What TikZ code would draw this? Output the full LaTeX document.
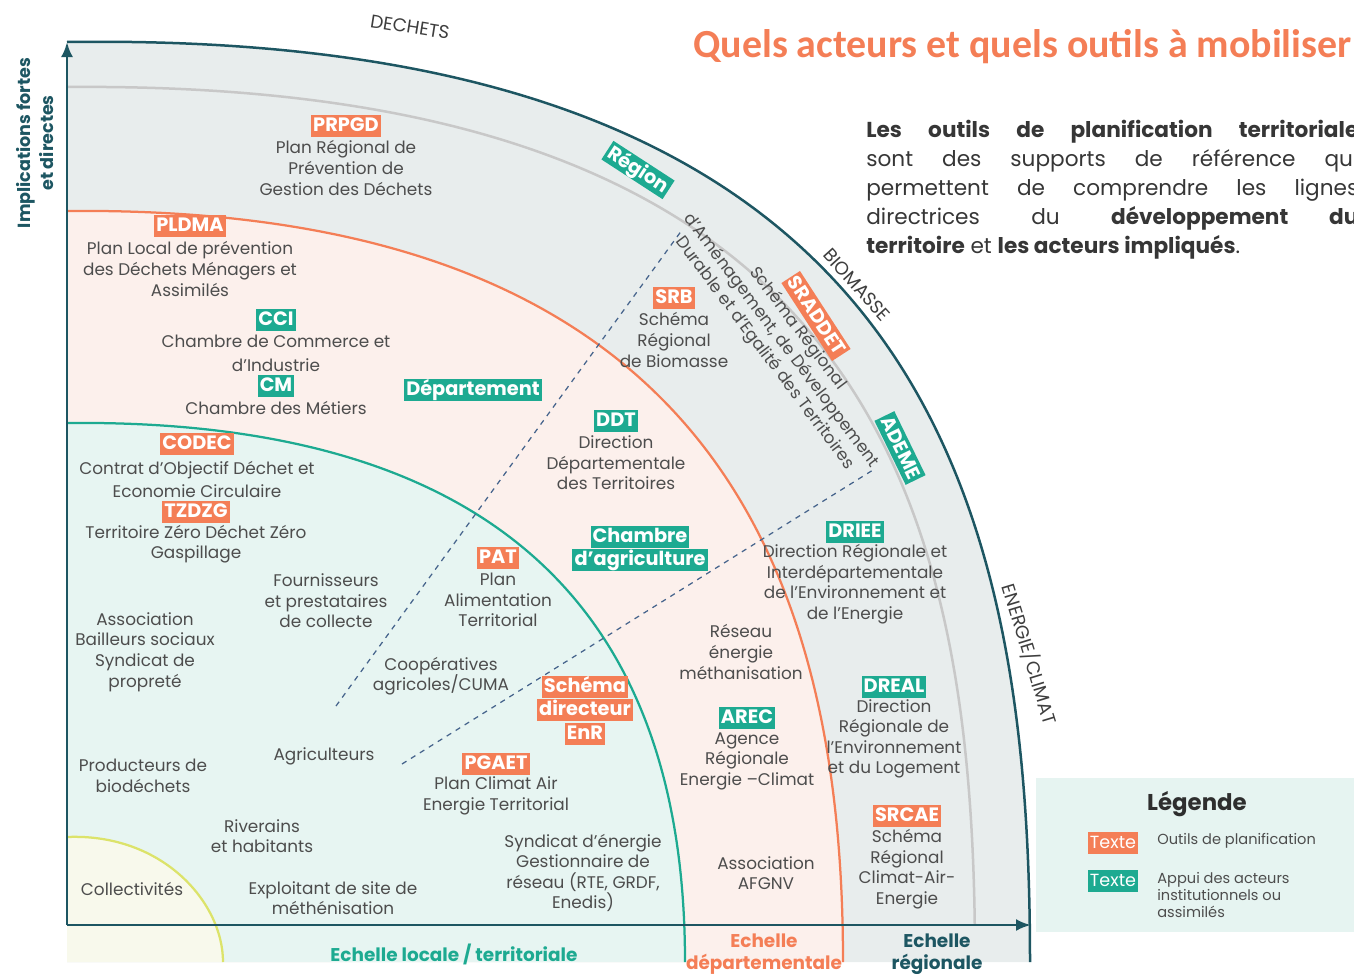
\documentclass[tikz,border=0pt]{standalone}
\usepackage{fontspec}
\setmainfont{Poppins}
\newfontfamily\titrefont{Carlito}
\usetikzlibrary{arrows.meta}

\definecolor{orangeoutil}{HTML}{F47E56}
\definecolor{vertappui}{HTML}{1DAA91}
\definecolor{bleuaxe}{HTML}{1D5662}
\definecolor{gristexte}{HTML}{4D4D4D}
\definecolor{grisligne}{HTML}{C8C8C8}
\definecolor{bleupointille}{HTML}{46648C}
\definecolor{fondregion}{HTML}{E8EDED}
\definecolor{fonddep}{HTML}{FCF0EC}
\definecolor{fondlocal}{HTML}{E7F5F2}
\definecolor{fondcollec}{HTML}{F8F9EC}
\definecolor{lignecollec}{HTML}{DCE36A}
\definecolor{fondlegende}{HTML}{E6F4F1}

\tikzset{
  outil/.style={fill=orangeoutil, text=white, font=\fontsize{11}{12}\selectfont\bfseries,
    inner xsep=1.2pt, inner ysep=1.2pt, text height=8.4pt, text depth=1.8pt},
  appui/.style={outil, fill=vertappui},
  desc/.style={text=gristexte, align=center, font=\fontsize{9.6}{11.7}\selectfont, inner sep=0pt},
  axe/.style={draw=bleuaxe, line width=0.55mm, -{Latex[length=3mm,width=2.4mm]}},
  pointille/.style={draw=bleupointille, dashed, line width=0.25mm},
  theme/.style={text=gristexte!80!black, font=\fontsize{10.5}{12}\selectfont},
  echelle/.style={align=center, font=\fontsize{10.5}{12.5}\selectfont\bfseries}
}

\begin{document}
\begin{tikzpicture}[x=0.2mm, y=-0.2mm]
  \useasboundingbox (0,0) rectangle (1354,974);

  % bandes (regional, departemental, local, collectivites)
  \fill[fondregion] (67,962) -- (67,42) .. controls (911,30) and (1030,478) .. (1030,962) -- cycle;
  \fill[fonddep] (67,962) -- (67,211) .. controls (687,205) and (843,542) .. (843,962) -- cycle;
  \fill[fondlocal] (67,962) -- (67,423) .. controls (547,418) and (685,662) .. (685,962) -- cycle;
  \fill[fondcollec] (67,962) -- (67,837) .. controls (162,833) and (223,902) .. (223,962) -- cycle;

  % limites
  \begin{scope}
    \clip (0,0) rectangle (1354,925);
    \draw[grisligne, line width=0.5mm] (67,87) .. controls (867,80) and (975,492) .. (975,962);
  \end{scope}
  \draw[bleuaxe, line width=0.5mm] (67,42) .. controls (911,30) and (1030,478) .. (1030,962);
  \draw[orangeoutil, line width=0.45mm] (67,211) .. controls (687,205) and (843,542) .. (843,962);
  \draw[vertappui, line width=0.45mm] (67,423) .. controls (547,418) and (685,662) .. (685,962);
  \draw[lignecollec, line width=0.45mm] (67,837) .. controls (162,833) and (223,902) .. (223,962);

  % axes
  \coordinate (O) at (67,925);
  \coordinate (haut) at (67,42);
  \coordinate (droite) at (1031,925);
  \draw[axe] (O) -- (haut);
  \draw[axe] (O) -- (droite);

  % pointilles
  \coordinate (p1a) at (336,706);
  \coordinate (p1b) at (682,230);
  \coordinate (p2a) at (402,764);
  \coordinate (p2b) at (873,470);
  \draw[pointille] (p1a) -- (p1b);
  \draw[pointille] (p2a) -- (p2b);

  % titres exterieurs
  \node[text=bleuaxe, align=center, rotate=90, font=\fontsize{10}{13}\selectfont\bfseries] (implic) at (35,143) {Implications fortes\\et directes};
  \node[theme, rotate=-9] (dechets) at (410,27) {DECHETS};
  \node[theme, rotate=-48] (biomasse) at (857,285) {BIOMASSE};
  \node[theme, rotate=-73] (energie) at (1030,654) {ENERGIE/CLIMAT};
  \node[anchor=base west, text=orangeoutil, inner sep=0pt, font=\titrefont\fontsize{22.7}{25}\selectfont\bfseries] (titre) at (693,57) {Quels acteurs et quels outils à mobiliser};

  % paragraphe
  \node[anchor=base west, inner sep=0pt, text=gristexte!70!black, font=\fontsize{12.3}{16}\selectfont] (par1) at (866,137) {\makebox[98.4mm][s]{\bfseries Les outils de planification territoriale}};
  \node[anchor=base west, inner sep=0pt, text=gristexte!70!black, font=\fontsize{12.3}{16}\selectfont] (par2) at (866,166) {\makebox[98.4mm][s]{sont des supports de référence qui}};
  \node[anchor=base west, inner sep=0pt, text=gristexte!70!black, font=\fontsize{12.3}{16}\selectfont] (par3) at (866,195) {\makebox[98.4mm][s]{permettent de comprendre les lignes}};
  \node[anchor=base west, inner sep=0pt, text=gristexte!70!black, font=\fontsize{12.3}{16}\selectfont] (par4) at (866,224) {\makebox[98.4mm][s]{directrices du \textbf{développement du}}};
  \node[anchor=base west, inner sep=0pt, text=gristexte!70!black, font=\fontsize{12.3}{16}\selectfont] (par5) at (866,253) {\textbf{territoire} et \textbf{les acteurs impliqués}.};

  % echelle regionale
  \node[outil] (prpgd) at (346,126) {PRPGD};
  \node[desc] (prpgdTxt) at (346,168) {Plan Régional de\\Prévention de\\Gestion des Déchets};
  \node[appui, rotate=-33] (region) at (638,170) {Région};
  \node[outil] (srb) at (674,298) {SRB};
  \node[desc] (srbTxt) at (674,340) {Schéma\\Régional\\de Biomasse};
  \node[outil, rotate=-57] (sraddet) at (816,316) {SRADDET};
  \node[desc, rotate=-53] (sraddetTxt) at (781,341) {Schéma Régional\\d'Aménagement, de Développement\\Durable et d'Egalité des Territoires};
  \node[appui, rotate=-64] (ademe) at (900,448) {ADEME};
  \node[appui] (driee) at (855,532) {DRIEE};
  \node[desc] (drieeTxt) at (855,584) {Direction Régionale et\\Interdépartementale\\de l'Environnement et\\de l'Energie};
  \node[appui] (dreal) at (894,687) {DREAL};
  \node[desc] (drealTxt) at (894,739) {Direction\\Régionale de\\l'Environnement\\et du Logement};
  \node[outil] (srcae) at (907,816) {SRCAE};
  \node[desc] (srcaeTxt) at (907,869) {Schéma\\Régional\\Climat-Air-\\Energie};

  % echelle departementale
  \node[outil] (pldma) at (190,226) {PLDMA};
  \node[desc] (pldmaTxt) at (190,269) {Plan Local de prévention\\des Déchets Ménagers et\\Assimilés};
  \node[appui] (cci) at (276,320) {CCI};
  \node[desc, font=\fontsize{9.6}{13.7}\selectfont] (cciTxt) at (276,353) {Chambre de Commerce et\\d’Industrie};
  \node[appui] (cm) at (276,386) {CM};
  \node[desc] (cmTxt) at (276,408) {Chambre des Métiers};
  \node[appui] (dept) at (473,390) {Département};
  \node[appui] (ddt) at (616,421) {DDT};
  \node[desc] (ddtTxt) at (616,463) {Direction\\Départementale\\des Territoires};
  \node[appui] (chambreA) at (640,537) {Chambre};
  \node[appui] (chambreB) at (640,560) {d’agriculture};
  \node[desc] (reseau) at (741,652) {Réseau\\énergie\\méthanisation};
  \node[appui] (arec) at (747,718) {AREC};
  \node[desc] (arecTxt) at (747,761) {Agence\\Régionale\\Energie –Climat};
  \node[desc] (afgnv) at (766,873) {Association\\AFGNV};

  % echelle locale
  \node[outil] (codec) at (197,444) {CODEC};
  \node[desc, font=\fontsize{9.6}{13.1}\selectfont] (codecTxt) at (197,479) {Contrat d’Objectif Déchet et\\Economie Circulaire};
  \node[outil] (tzdzg) at (196,512) {TZDZG};
  \node[desc] (tzdzgTxt) at (196,544) {Territoire Zéro Déchet Zéro\\Gaspillage};
  \node[desc] (fournis) at (326,601) {Fournisseurs\\et prestataires\\de collecte};
  \node[desc] (assoc) at (145,652) {Association\\Bailleurs sociaux\\Syndicat de\\propreté};
  \node[outil] (pat) at (498,558) {PAT};
  \node[desc] (patTxt) at (498,600) {Plan\\Alimentation\\Territorial};
  \node[desc] (coop) at (441,676) {Coopératives\\agricoles/CUMA};
  \node[outil] (schemaA) at (585,687) {Schéma};
  \node[outil] (schemaB) at (585,710) {directeur};
  \node[outil] (schemaC) at (585,734) {EnR};
  \node[desc] (agri) at (324,756) {Agriculteurs};
  \node[desc] (produc) at (143,776) {Producteurs de\\biodéchets};
  \node[outil] (pgaet) at (496,764) {PGAET};
  \node[desc] (pgaetTxt) at (496,796) {Plan Climat Air\\Energie Territorial};
  \node[desc] (riverains) at (262,836) {Riverains\\et habitants};
  \node[desc] (syndicat) at (583,873) {Syndicat d’énergie\\Gestionnaire de\\réseau (RTE, GRDF,\\Enedis)};
  \node[desc] (collec) at (132,889) {Collectivités};
  \node[desc] (exploit) at (333,898) {Exploitant de site de\\méthénisation};

  % echelles
  \node[echelle, text=vertappui] (echLocale) at (454,954) {Echelle locale / territoriale};
  \node[echelle, text=orangeoutil] (echDep) at (764,954) {Echelle\\départementale};
  \node[echelle, text=bleuaxe] (echReg) at (937,954) {Echelle\\régionale};

  % legende
  \fill[fondlegende] (1036,778) rectangle (1354,932);
  \node[text=gristexte!60!black, font=\fontsize{13}{15}\selectfont\bfseries] (legTitre) at (1197,804) {Légende};
  \node[outil, font=\fontsize{10}{12}\selectfont] (legOutil) at (1113,843) {Texte};
  \node[anchor=west, text=gristexte, font=\fontsize{8.3}{9.7}\selectfont, inner sep=0pt] (legOutilTxt) at (1157,841) {Outils de planification};
  \node[appui, font=\fontsize{10}{12}\selectfont] (legAppui) at (1113,881) {Texte};
  \node[anchor=north west, align=left, text=gristexte, font=\fontsize{8.3}{9.7}\selectfont, inner sep=0pt] (legAppuiTxt) at (1157,872) {Appui des acteurs\\institutionnels ou\\assimilés};
\end{tikzpicture}
\end{document}
